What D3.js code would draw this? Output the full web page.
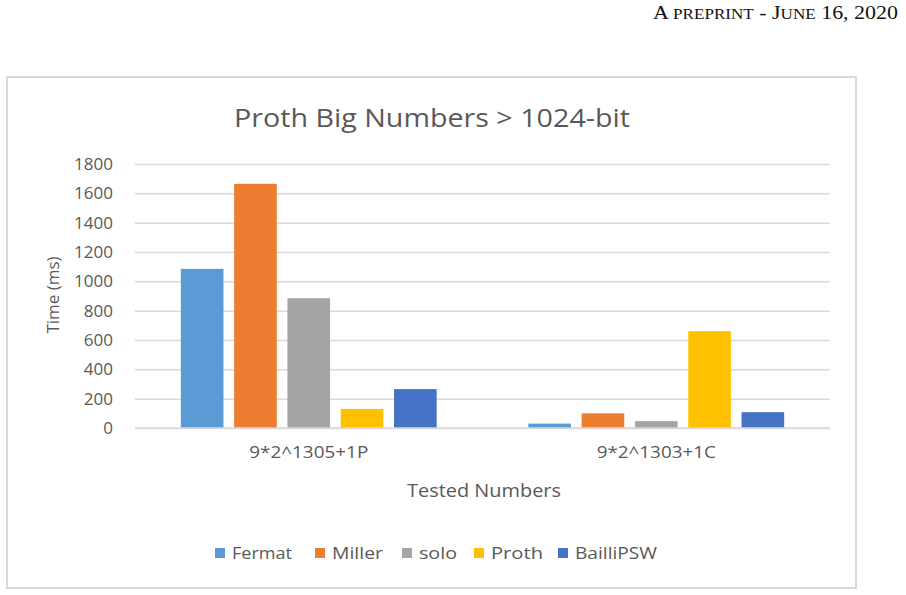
<!DOCTYPE html>
<html><head><meta charset="utf-8">
<script src="https://cdn.jsdelivr.net/npm/d3@7"></script>
<style>
body{margin:0;background:#fff;}
svg{display:block;}
</style></head>
<body>
<script>
const categories = ["9*2^1305+1P", "9*2^1303+1C"];
const seriesNames = ["Fermat", "Miller", "solo", "Proth", "BailliPSW"];
const fermat = [1085, 30];
const miller = [1665, 100];
const solo = [885, 47];
const proth = [130, 660];
const bailli = [265, 108];
const colors = ["#5B9BD5", "#ED7D31", "#A5A5A5", "#FFC000", "#4472C4"];
const yTicks = [0, 200, 400, 600, 800, 1000, 1200, 1400, 1600, 1800];

const values = [fermat, miller, solo, proth, bailli];
const W = 906, H = 595;
const svg = d3.select("body").append("svg").attr("width", W).attr("height", H);
const font = "'Open Sans', sans-serif";
const txt = "#595959";

// header (small caps built from tspans)
const hdr = svg.append("text").attr("x", 898).attr("y", 19).attr("text-anchor", "end")
  .attr("font-family", "'Liberation Serif', serif").attr("font-size", 18).attr("fill", "#111")
  .attr("textLength", 245).attr("lengthAdjust", "spacingAndGlyphs");
[["A", 18], [" PREPRINT", 14], [" - J", 18], ["UNE", 14], [" 16, 2020", 18]].forEach(([t, s]) => {
  hdr.append("tspan").attr("font-size", s).text(t);
});

// chart border
svg.append("rect").attr("x", 7).attr("y", 77).attr("width", 849).attr("height", 511)
  .attr("fill", "#fff").attr("stroke", "#D9D9D9").attr("stroke-width", 2);

// title
svg.append("text").attr("x", 432).attr("y", 127).attr("text-anchor", "middle")
  .attr("font-family", font).attr("font-size", 25).attr("fill", txt)
  .attr("textLength", 396).attr("lengthAdjust", "spacingAndGlyphs")
  .text("Proth Big Numbers > 1024-bit");

const pLeft = 135, pRight = 830, pTop = 164, pBottom = 428;
const y = d3.scaleLinear().domain([0, 1800]).range([pBottom, pTop]);
const x0 = d3.scaleBand().domain(categories).range([pLeft, pRight]);
const x1 = d3.scaleBand().domain(seriesNames).range([0, x0.bandwidth()]).paddingInner(0.2).paddingOuter(0.86);

// grid
const yAxis = d3.axisLeft(y).tickValues(yTicks).tickSize(-(pRight - pLeft)).tickPadding(22).tickFormat(d3.format("d"));
const ga = svg.append("g").attr("transform", `translate(${pLeft},0)`).call(yAxis);
ga.select(".domain").remove();
ga.selectAll(".tick line").attr("stroke", "#D9D9D9").attr("stroke-width", 1.5);
ga.selectAll(".tick text").attr("font-family", font).attr("font-size", 17).attr("fill", txt);

// bars
const groups = svg.append("g").selectAll("g").data(categories).join("g")
  .attr("transform", d => `translate(${x0(d)},0)`);
groups.selectAll("rect").data((c, ci) => seriesNames.map((s, si) => ({s, si, v: values[si][ci]})))
  .join("rect")
  .attr("x", d => x1(d.s)).attr("width", x1.bandwidth())
  .attr("y", d => y(d.v)).attr("height", d => y(0) - y(d.v))
  .attr("fill", d => colors[d.si]);

// x axis baseline
svg.append("line").attr("x1", pLeft).attr("x2", pRight).attr("y1", y(0)).attr("y2", y(0))
  .attr("stroke", "#D9D9D9").attr("stroke-width", 1.5);

// category labels
svg.append("g").selectAll("text").data(categories).join("text")
  .attr("x", d => x0(d) + x0.bandwidth() / 2).attr("y", 458).attr("text-anchor", "middle")
  .attr("font-family", font).attr("font-size", 16).attr("fill", txt)
  .attr("textLength", 119).attr("lengthAdjust", "spacingAndGlyphs").text(d => d);

// axis titles
svg.append("text").attr("x", 484).attr("y", 497).attr("text-anchor", "middle")
  .attr("font-family", font).attr("font-size", 18).attr("fill", txt)
  .attr("textLength", 154).attr("lengthAdjust", "spacingAndGlyphs").text("Tested Numbers");
svg.append("text").attr("transform", "translate(59,295) rotate(-90)").attr("text-anchor", "middle")
  .attr("font-family", font).attr("font-size", 17).attr("fill", txt).text("Time (ms)");

// legend
const legX = [215, 315, 402, 474, 558];
const legW = [60, 51, 38, 52, 82];
const lg = svg.append("g").selectAll("g").data(seriesNames).join("g")
  .attr("transform", (d, i) => `translate(${legX[i]},553)`);
lg.append("rect").attr("x", 0).attr("y", -5).attr("width", 10).attr("height", 10).attr("fill", (d, i) => colors[i]);
lg.append("text").attr("x", 17).attr("y", 6).attr("font-family", font).attr("font-size", 17).attr("fill", txt)
  .attr("textLength", (d, i) => legW[i]).attr("lengthAdjust", "spacingAndGlyphs").text(d => d);
</script>
</body></html>
